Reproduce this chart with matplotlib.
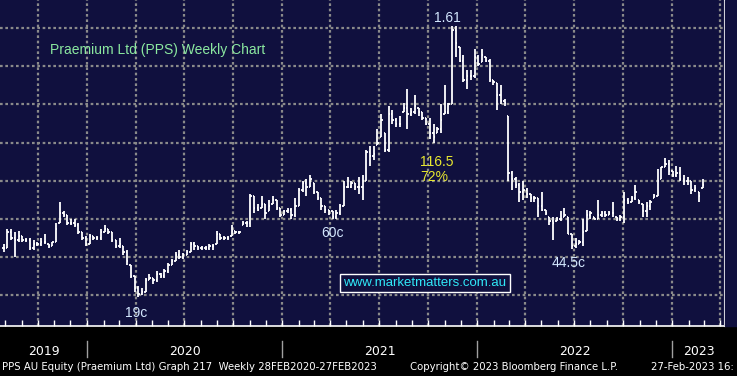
import datetime as dt
import numpy as np
import matplotlib
matplotlib.use("Agg")
import matplotlib.pyplot as plt
import matplotlib.dates as mdates
from matplotlib.collections import LineCollection
from matplotlib.patches import Rectangle
from matplotlib.transforms import blended_transform_factory

# weekly OHLC bars for PPS, first bar w/c 29-Jul-2019, last 27-Feb-2023
first_week = dt.date(2019, 7, 29)

closes = [
    0.45, 0.53, 0.50, 0.49, 0.51, 0.49, 0.49, 0.45, 0.47, 0.47,
    0.48, 0.48, 0.46, 0.48, 0.55, 0.63, 0.62, 0.58, 0.58, 0.57,
    0.53, 0.50, 0.47, 0.51, 0.50, 0.50, 0.53, 0.55, 0.53, 0.49,
    0.46, 0.47, 0.43, 0.38, 0.30, 0.24, 0.21, 0.22, 0.28, 0.29,
    0.28, 0.31, 0.30, 0.33, 0.36, 0.38, 0.41, 0.40, 0.41, 0.43,
    0.47, 0.46, 0.45, 0.45, 0.45, 0.46, 0.46, 0.52, 0.50, 0.50,
    0.50, 0.54, 0.53, 0.53, 0.58, 0.58, 0.72, 0.66, 0.65, 0.68,
    0.63, 0.67, 0.70, 0.66, 0.62, 0.64, 0.65, 0.62, 0.67, 0.75,
    0.79, 0.77, 0.81, 0.74, 0.71, 0.67, 0.65, 0.64, 0.61, 0.63,
    0.67, 0.77, 0.77, 0.79, 0.77, 0.77, 0.80, 0.95, 0.93, 0.94,
    1.00, 1.12, 0.96, 1.15, 1.12, 1.10, 1.10, 1.18, 1.15, 1.16,
    1.19, 1.16, 1.13, 1.10, 1.05, 1.03, 1.07, 1.12, 1.16, 1.20,
    1.59, 1.52, 1.43, 1.33, 1.35, 1.35, 1.45, 1.41, 1.46, 1.43,
    1.33, 1.32, 1.25, 1.22, 1.21, 0.84, 0.81, 0.78, 0.74, 0.75,
    0.73, 0.71, 0.71, 0.67, 0.65, 0.63, 0.59, 0.58, 0.60, 0.60,
    0.62, 0.52, 0.46, 0.47, 0.48, 0.53, 0.62, 0.63, 0.60, 0.62,
    0.63, 0.62, 0.63, 0.63, 0.60, 0.61, 0.70, 0.69, 0.71, 0.74,
    0.69, 0.64, 0.67, 0.69, 0.72, 0.80, 0.87, 0.89, 0.85, 0.83,
    0.84, 0.81, 0.80, 0.80, 0.75, 0.76, 0.72, 0.78,
]
highs = [
    0.47, 0.55, 0.55, 0.53, 0.54, 0.51, 0.50, 0.50, 0.49, 0.48,
    0.50, 0.52, 0.47, 0.48, 0.58, 0.69, 0.64, 0.62, 0.60, 0.60,
    0.58, 0.53, 0.51, 0.52, 0.51, 0.51, 0.55, 0.57, 0.55, 0.53,
    0.49, 0.50, 0.46, 0.44, 0.36, 0.30, 0.25, 0.24, 0.29, 0.31,
    0.29, 0.33, 0.32, 0.34, 0.37, 0.39, 0.43, 0.44, 0.42, 0.44,
    0.48, 0.48, 0.46, 0.46, 0.46, 0.47, 0.47, 0.54, 0.52, 0.51,
    0.51, 0.57, 0.54, 0.54, 0.59, 0.59, 0.73, 0.72, 0.68, 0.72,
    0.68, 0.70, 0.72, 0.70, 0.66, 0.65, 0.66, 0.66, 0.71, 0.76,
    0.80, 0.81, 0.83, 0.79, 0.74, 0.71, 0.67, 0.65, 0.64, 0.65,
    0.68, 0.80, 0.82, 0.80, 0.79, 0.82, 0.83, 0.96, 0.98, 0.98,
    1.07, 1.15, 1.05, 1.19, 1.17, 1.13, 1.14, 1.21, 1.28, 1.18,
    1.25, 1.18, 1.16, 1.13, 1.13, 1.10, 1.08, 1.20, 1.30, 1.21,
    1.61, 1.61, 1.50, 1.46, 1.38, 1.38, 1.49, 1.46, 1.49, 1.45,
    1.44, 1.33, 1.31, 1.30, 1.23, 1.14, 0.85, 0.82, 0.79, 0.80,
    0.76, 0.73, 0.72, 0.71, 0.74, 0.65, 0.61, 0.61, 0.61, 0.64,
    0.66, 0.61, 0.52, 0.50, 0.49, 0.60, 0.65, 0.64, 0.61, 0.70,
    0.64, 0.64, 0.64, 0.69, 0.61, 0.62, 0.74, 0.71, 0.72, 0.78,
    0.70, 0.68, 0.69, 0.70, 0.73, 0.86, 0.87, 0.92, 0.91, 0.85,
    0.88, 0.87, 0.83, 0.82, 0.80, 0.78, 0.74, 0.81,
]
lows = [
    0.43, 0.45, 0.49, 0.40, 0.48, 0.48, 0.48, 0.44, 0.44, 0.46,
    0.46, 0.47, 0.45, 0.46, 0.48, 0.58, 0.61, 0.57, 0.57, 0.56,
    0.52, 0.49, 0.46, 0.47, 0.49, 0.49, 0.49, 0.53, 0.52, 0.48,
    0.45, 0.45, 0.41, 0.36, 0.29, 0.22, 0.19, 0.20, 0.22, 0.28,
    0.26, 0.27, 0.29, 0.29, 0.32, 0.36, 0.38, 0.39, 0.39, 0.41,
    0.43, 0.44, 0.44, 0.44, 0.44, 0.44, 0.44, 0.47, 0.49, 0.49,
    0.49, 0.51, 0.52, 0.52, 0.57, 0.56, 0.56, 0.63, 0.64, 0.66,
    0.60, 0.64, 0.68, 0.65, 0.61, 0.62, 0.63, 0.60, 0.61, 0.67,
    0.74, 0.72, 0.77, 0.73, 0.70, 0.65, 0.63, 0.62, 0.60, 0.60,
    0.62, 0.67, 0.76, 0.76, 0.75, 0.73, 0.70, 0.80, 0.88, 0.91,
    0.99, 1.03, 0.95, 0.95, 1.10, 1.08, 1.08, 1.16, 1.07, 1.14,
    1.15, 1.14, 1.12, 1.09, 1.02, 1.00, 1.05, 1.05, 1.15, 1.15,
    1.20, 1.45, 1.42, 1.32, 1.28, 1.33, 1.34, 1.40, 1.42, 1.42,
    1.32, 1.30, 1.17, 1.20, 1.19, 0.80, 0.75, 0.76, 0.69, 0.70,
    0.71, 0.69, 0.69, 0.61, 0.64, 0.62, 0.57, 0.49, 0.59, 0.59,
    0.61, 0.52, 0.445, 0.45, 0.47, 0.46, 0.54, 0.60, 0.60, 0.60,
    0.61, 0.61, 0.62, 0.61, 0.59, 0.59, 0.58, 0.68, 0.69, 0.70,
    0.68, 0.61, 0.61, 0.65, 0.71, 0.72, 0.81, 0.87, 0.83, 0.82,
    0.82, 0.80, 0.78, 0.78, 0.73, 0.74, 0.69, 0.76,
]

year_labels = ["2019", "2020", "2021", "2022", "2023"]

navy = "#10103e"
W, H = 737, 376

weeks = [first_week + dt.timedelta(weeks=i) for i in range(len(closes))]
t = mdates.date2num(weeks)
c = np.array(closes)
hi = np.array(highs)
lo = np.array(lows)
# open = previous week's close, kept inside the week's range
o = np.clip(np.r_[c[0], c[:-1]], lo, hi)

fig = plt.figure(figsize=(W / 100, H / 100), dpi=100, facecolor="black")
ax = fig.add_axes([0, 50 / H, 725 / W, 326 / H])
ax.set_facecolor(navy)
fig.patches.append(Rectangle((725 / W, 50 / H), 12 / W, 326 / H,
                             transform=fig.transFigure, color=navy, zorder=0))

# OHLC bars
d = 2.5
segs = []
for ti, oi, hh, ll, ci in zip(t, o, hi, lo, c):
    segs.append([(ti, ll), (ti, hh)])
    segs.append([(ti - d, oi), (ti, oi)])
    segs.append([(ti, ci), (ti + d, ci)])
ax.add_collection(LineCollection(segs, colors="white", linewidths=1.3,
                                 capstyle="butt", zorder=3))

x0 = mdates.date2num(dt.date(2019, 7, 22))
x1 = mdates.date2num(dt.date(2023, 4, 10))
ax.set_xlim(x0, x1)
ax.set_ylim(0.04, 1.747)

ax.xaxis.set_major_locator(mdates.MonthLocator(bymonth=[1, 4, 7, 10]))
ax.xaxis.set_minor_locator(mdates.MonthLocator())
ax.set_yticks(np.arange(0.2, 1.61, 0.2))
ax.set_yticks(np.arange(0.1, 1.71, 0.1), minor=True)
ax.grid(True, which="major", color="#8a8a8a", linestyle=(0, (1.2, 1.2)),
        linewidth=1.6, zorder=1)
ax.tick_params(axis="x", which="both", direction="in", length=4, width=1,
               color="white", labelbottom=False)
ax.tick_params(axis="y", which="both", direction="out", length=3, width=1,
               color="white", left=False, right=True,
               labelleft=False, labelright=False)
for s in ["top", "left"]:
    ax.spines[s].set_visible(False)
ax.spines["right"].set_color("white")
ax.spines["right"].set_linewidth(1.5)
ax.spines["bottom"].set_color("white")
ax.spines["bottom"].set_linewidth(1.2)

# price-label arrows on the right axis
bt = blended_transform_factory(ax.transAxes, ax.transData)
for yv in np.arange(0.2, 1.61, 0.2):
    ax.plot(1.008, yv, marker="<", ms=5, color="white", transform=bt,
            clip_on=False)
ax.plot(1.012, 0.79, marker="<", ms=10, color="white", transform=bt,
        clip_on=False)

# year labels and separators
bx = blended_transform_factory(ax.transData, ax.transAxes)
bounds = [x0] + [mdates.date2num(dt.date(y, 1, 1)) for y in (2020, 2021, 2022, 2023)] + [x1]
for i, lab in enumerate(year_labels):
    ax.text((bounds[i] + bounds[i + 1]) / 2, -0.077, lab, transform=bx,
            ha="center", va="center", color="white", fontsize=9,
            family="DejaVu Sans")
for b in bounds[1:-1]:
    ax.plot([b, b], [-0.045, -0.095], color="#a0a0a0", lw=1, transform=bx,
            clip_on=False)


def fp(x, y):
    return x / W, 1 - y / H


fig.text(*fp(2, 367), "PPS AU Equity (Praemium Ltd) Graph 217  Weekly 28FEB2020-27FEB2023",
         color="white", fontsize=7.3, va="center", family="DejaVu Sans")
fig.text(*fp(410, 367), "Copyright\u00a9 2023 Bloomberg Finance L.P.",
         color="white", fontsize=7.3, va="center", family="DejaVu Sans")
fig.text(*fp(651, 367), "27-Feb-2023 16:", color="white", fontsize=7.3,
         va="center", family="DejaVu Sans")

# chart annotations
ann = dict(family="Liberation Sans", va="center")
fig.text(*fp(50, 50), "Praemium Ltd (PPS) Weekly Chart", color="#8be8a0",
         fontsize=10, **ann)
fig.text(*fp(447, 18), "1.61", color="#d4e8ff", fontsize=10, ha="center", **ann)
fig.text(*fp(420, 162), "116.5", color="#e8e830", fontsize=10, **ann)
fig.text(*fp(420, 177), "72%", color="#e8e830", fontsize=10, **ann)
fig.text(*fp(332, 233), "60c", color="#d4e8ff", fontsize=10, ha="center", **ann)
fig.text(*fp(136, 313), "19c", color="#d4e8ff", fontsize=10, ha="center", **ann)
fig.text(*fp(569, 263), "44.5c", color="#d4e8ff", fontsize=10, ha="center", **ann)
fig.text(*fp(425, 283), "www.marketmatters.com.au", color="#30e8f8",
         fontsize=9.5, ha="center",
         bbox=dict(boxstyle="square,pad=0.25", fc=navy, ec="white", lw=1),
         **ann)

fig.savefig("out.png", dpi=100, facecolor="black")
